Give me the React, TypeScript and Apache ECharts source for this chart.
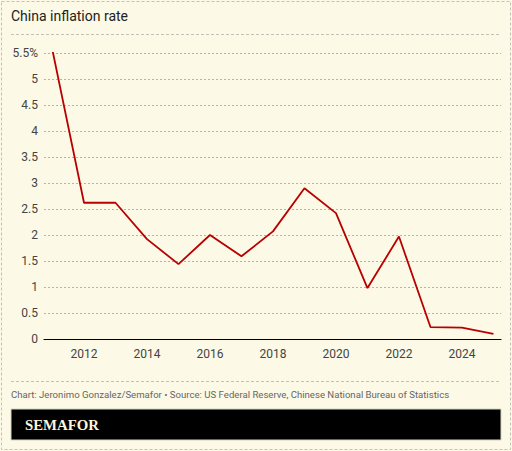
import React, { useEffect, useRef } from "react";
import * as echarts from "echarts";

const years = [2011, 2012, 2013, 2014, 2015, 2016, 2017, 2018, 2019, 2020, 2021, 2022, 2023, 2024, 2025];
const inflation = [5.55, 2.62, 2.62, 1.92, 1.44, 2.0, 1.59, 2.07, 2.9, 2.42, 0.98, 1.97, 0.23, 0.22, 0.1];
const xTickLabels = [2012, 2014, 2016, 2018, 2020, 2022, 2024];
const titleText = "China inflation rate";
const sourceText = "Chart: Jeronimo Gonzalez/Semafor • Source: US Federal Reserve, Chinese National Bureau of Statistics";
const brandText = "SEMAFOR";

export default function App() {
  const ref = useRef<HTMLDivElement>(null);
  useEffect(() => {
    if (!ref.current) return;
    const chart = echarts.init(ref.current, null, { renderer: "svg" });
    const font = "Roboto, 'Noto Sans', sans-serif";
    chart.setOption({
      animation: false,
      backgroundColor: "#fcf9e6",
      grid: { left: 44, right: 11, top: 53, bottom: 112, containLabel: false },
      xAxis: {
        type: "value",
        min: 2010.73,
        max: 2025.24,
        axisLine: { show: true, lineStyle: { color: "#000", width: 1.2 } },
        axisTick: { show: false },
        splitLine: { show: false },
        axisLabel: {
          customValues: xTickLabels,
          color: "#444",
          fontSize: 12,
          fontFamily: font,
          margin: 9,
          formatter: (v: number) => String(v),
        },
      },
      yAxis: {
        type: "value",
        min: 0,
        max: 5.5,
        interval: 0.5,
        axisLine: { show: false },
        axisTick: { show: false },
        splitLine: { show: true, lineStyle: { color: "#b5b3a6", type: [2, 2], width: 1 } },
        axisLabel: {
          color: "#444",
          fontSize: 12,
          fontFamily: font,
          margin: 6,
          formatter: (v: number) => (Math.abs(v - 5.5) < 1e-9 ? "5.5%" : String(v)),
        },
      },
      series: [
        {
          type: "line",
          data: years.map((y, i) => [y, inflation[i]]),
          showSymbol: false,
          lineStyle: { color: "#b80000", width: 1.8 },
          z: 5,
        },
      ],
      graphic: [
        {
          type: "rect",
          shape: { x: 1.5, y: 1.5, width: 509, height: 448 },
          style: { fill: "none", stroke: "#c4c2b6", lineWidth: 1, lineDash: [3, 2] },
          silent: true,
        },
        {
          type: "text",
          x: 11,
          y: 16,
          style: { text: titleText, fill: "#222", fontSize: 14, fontFamily: font, textVerticalAlign: "middle" },
        },
        {
          type: "line",
          shape: { x1: 11, y1: 34.5, x2: 501, y2: 34.5 },
          style: { stroke: "#c4c2b6", lineWidth: 1, lineDash: [3, 2] },
        },
        {
          type: "line",
          shape: { x1: 11, y1: 381.5, x2: 501, y2: 381.5 },
          style: { stroke: "#c4c2b6", lineWidth: 1, lineDash: [3, 2] },
        },
        {
          type: "text",
          x: 11,
          y: 394,
          style: { text: sourceText, fill: "#666", fontSize: 9.6, fontFamily: font, textVerticalAlign: "middle" },
        },
        {
          type: "rect",
          shape: { x: 11, y: 409, width: 490, height: 31 },
          style: { fill: "#000", stroke: "#d8d4c0", lineWidth: 1 },
        },
        {
          type: "text",
          x: 25,
          y: 425,
          style: {
            text: brandText,
            fill: "#fcf6dc",
            fontSize: 14.8,
            fontWeight: "bold",
            fontFamily: "'Liberation Serif', 'DejaVu Serif', serif",
            textVerticalAlign: "middle",
          },
        },
      ],
    });
    return () => chart.dispose();
  }, []);
  return <div ref={ref} style={{ position: "fixed", left: 0, top: 0, width: 512, height: 451 }} />;
}
